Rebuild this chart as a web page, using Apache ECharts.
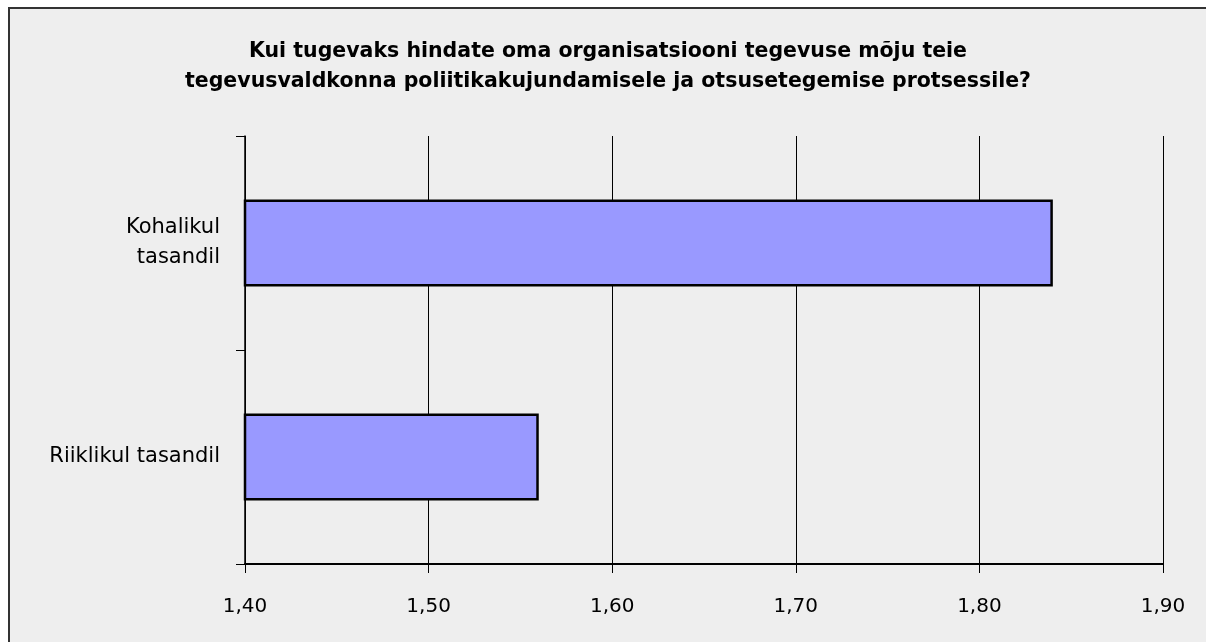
<!DOCTYPE html>
<html>
<head>
<meta charset="utf-8">
<script src="https://cdn.jsdelivr.net/npm/echarts@6/dist/echarts.min.js"></script>
<style>
html,body{margin:0;padding:0;background:#fff;}
#chart{width:1206px;height:642px;}
</style>
</head>
<body>
<div id="chart"></div>
<script>
// andmed
var titleText = 'Kui tugevaks hindate oma organisatsiooni tegevuse mõju teie\ntegevusvaldkonna poliitikakujundamisele ja otsusetegemise protsessile?';
var categories = ['Riiklikul tasandil', 'Kohalikul\ntasandil'];
var values = [1.56, 1.84];
var axisMin = 1.4, axisMax = 1.9, axisStep = 0.1;

var chart = echarts.init(document.getElementById('chart'));
var option = {
    backgroundColor: '#ffffff',
    animation: false,
    graphic: [{
        type: 'rect',
        z: -10,
        shape: {x: 9, y: 8, width: 1400, height: 900},
        style: {fill: '#eeeeee', stroke: '#333', lineWidth: 2}
    }],
    title: {
        text: titleText,
        left: 603,
        textAlign: 'center',
        top: 32,
        textStyle: {
            fontFamily: 'DejaVu Sans',
            fontWeight: 'bold',
            fontSize: 20.5,
            lineHeight: 30,
            color: '#000'
        }
    },
    grid: {left: 245, right: 43, top: 136, bottom: 78, containLabel: false},
    xAxis: {
        type: 'value',
        min: axisMin,
        max: axisMax,
        interval: axisStep,
        axisLine: {show: true, lineStyle: {color: '#000', width: 2}},
        axisTick: {show: true, length: 9, lineStyle: {color: '#000'}},
        splitLine: {show: true, lineStyle: {color: '#000', width: 1}},
        axisLabel: {
            margin: 33,
            color: '#000',
            fontFamily: 'DejaVu Sans',
            fontSize: 20,
            formatter: function (v) { return v.toFixed(2).replace('.', ','); }
        }
    },
    yAxis: {
        type: 'category',
        data: categories,
        axisLine: {show: true, lineStyle: {color: '#000', width: 1.5}},
        axisTick: {show: true, length: 9, lineStyle: {color: '#000'}},
        axisLabel: {
            margin: 25,
            color: '#000',
            fontFamily: 'DejaVu Sans',
            fontSize: 21,
            lineHeight: 30,
            align: 'right'
        }
    },
    series: [{
        type: 'bar',
        data: values,
        barWidth: 87,
        itemStyle: {color: '#9999ff', borderColor: '#000', borderWidth: 2.5}
    }]
};
chart.setOption(option);
</script>
</body>
</html>
